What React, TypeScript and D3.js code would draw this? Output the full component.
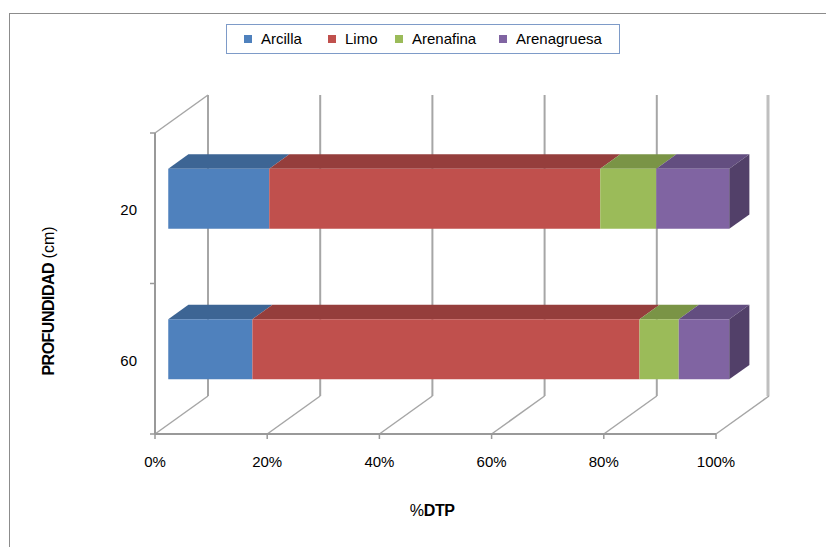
import React from "react";
import * as d3 from "d3";

// Depth categories (cm) and soil texture fractions (%)
const depths = ["20", "60"];
const series = ["Arcilla", "Limo", "Arenafina", "Arenagruesa"];
const arcilla = [18, 15];
const limo = [59, 69];
const arenaFina = [10, 7];
const arenaGruesa = [13, 9];
const xTicks = [0, 20, 40, 60, 80, 100];

const frontColors = ["#4F81BD", "#C0504D", "#9BBB59", "#8064A2"];
const topColors = ["#3D6594", "#953E3C", "#7A9446", "#634E80"];
const sideColor = "#524069";

const W = 826;
const H = 547;
const FONT = "Arial, 'Liberation Sans', sans-serif";

// Oblique projection of the 3D plot box
const DEPTH_X = 53;
const DEPTH_Y = -38;
const BAR_D0 = 0.25;
const BAR_D1 = 0.63;

export default function App() {
  const values = [arcilla, limo, arenaFina, arenaGruesa];
  const stack = d3
    .stack<number>()
    .keys(series.map((_, i) => String(i)))
    .value((j, key) => values[+key][j]);
  const stacked = stack(depths.map((_, j) => j));

  const x = d3.scaleLinear().domain([0, 100]).range([155, 716]);
  const y = d3
    .scaleBand<string>()
    .domain(depths)
    .range([133, 434])
    .paddingInner(0.6)
    .paddingOuter(0.3);

  const top = 133;
  const bottom = 434;
  const gridColor = "#A6A6A6";

  const pt = (px: number, py: number, d: number) =>
    `${px + DEPTH_X * d},${py + DEPTH_Y * d}`;

  const bars: React.ReactNode[] = [];
  depths.forEach((dep, j) => {
    const y0 = y(dep)!;
    const y1 = y0 + y.bandwidth();
    stacked.forEach((layer, i) => {
      const [a, b] = layer[j];
      const xa = x(a);
      const xb = x(b);
      bars.push(
        <polygon
          key={`t${j}-${i}`}
          points={[pt(xa, y0, BAR_D0), pt(xb, y0, BAR_D0), pt(xb, y0, BAR_D1), pt(xa, y0, BAR_D1)].join(" ")}
          fill={topColors[i]}
        />
      );
      bars.push(
        <polygon
          key={`f${j}-${i}`}
          points={[pt(xa, y0, BAR_D0), pt(xb, y0, BAR_D0), pt(xb, y1, BAR_D0), pt(xa, y1, BAR_D0)].join(" ")}
          fill={frontColors[i]}
        />
      );
      if (i === stacked.length - 1) {
        bars.push(
          <polygon
            key={`s${j}`}
            points={[pt(xb, y0, BAR_D0), pt(xb, y0, BAR_D1), pt(xb, y1, BAR_D1), pt(xb, y1, BAR_D0)].join(" ")}
            fill={sideColor}
          />
        );
      }
    });
  });

  const legendX = [244, 328, 395, 499];

  return (
    <svg
      width={W}
      height={H}
      style={{ position: "absolute", left: 0, top: 0, background: "#fff" }}
      fontFamily={FONT}
    >
      <rect x={9.5} y={13.5} width={900} height={700} fill="#fff" stroke="#8C8C8C" strokeWidth={1} />

      {/* back wall gridlines */}
      {xTicks.slice(0, -1).map((t) => (
        <line
          key={`g${t}`}
          x1={x(t) + DEPTH_X}
          x2={x(t) + DEPTH_X}
          y1={top + DEPTH_Y}
          y2={bottom + DEPTH_Y}
          stroke={gridColor}
          strokeWidth={2}
        />
      ))}
      {/* right wall */}
      <line
        x1={x(100) + DEPTH_X - 1}
        x2={x(100) + DEPTH_X - 1}
        y1={top + DEPTH_Y}
        y2={bottom + DEPTH_Y}
        stroke="#BFBFBF"
        strokeWidth={3}
      />
      {/* floor diagonals */}
      {xTicks.map((t) => (
        <line
          key={`fd${t}`}
          x1={x(t)}
          y1={bottom}
          x2={x(t) + DEPTH_X}
          y2={bottom + DEPTH_Y}
          stroke={gridColor}
          strokeWidth={1.5}
        />
      ))}
      {/* left wall top edge */}
      <line x1={x(0)} y1={top} x2={x(0) + DEPTH_X} y2={top + DEPTH_Y} stroke={gridColor} strokeWidth={1.5} />

      {bars}

      {/* front axes */}
      <line x1={x(0)} x2={x(0)} y1={top} y2={bottom} stroke="#999" strokeWidth={2} />
      <line x1={x(0)} x2={x(100)} y1={bottom} y2={bottom} stroke="#999" strokeWidth={2} />
      {[top, (top + bottom) / 2, bottom].map((v, k) => (
        <line key={`lt${k}`} x1={150} x2={155} y1={v} y2={v} stroke="#999" strokeWidth={1.5} />
      ))}
      {xTicks.map((t) => (
        <g key={`xt${t}`}>
          <line x1={x(t)} x2={x(t)} y1={bottom} y2={bottom + 5} stroke="#999" strokeWidth={1.5} />
          <text x={x(t)} y={467} textAnchor="middle" fontSize={15} fill="#000">
            {`${t}%`}
          </text>
        </g>
      ))}
      {depths.map((dep) => (
        <text key={`yl${dep}`} x={137} y={y(dep)! + y.bandwidth() / 2 + 7} textAnchor="end" fontSize={15} fill="#000">
          {dep}
        </text>
      ))}

      {/* axis titles */}
      <text x={432} y={516} textAnchor="middle" fontSize={16} fill="#000">
        %<tspan fontWeight="bold" letterSpacing={-0.5}>DTP</tspan>
      </text>
      <text
        transform="translate(54,301) rotate(-90)"
        textAnchor="middle"
        fontSize={16}
        fill="#000"
      >
        <tspan fontWeight="bold" letterSpacing={-0.5}>PROFUNDIDAD</tspan>
        <tspan> (cm)</tspan>
      </text>

      {/* legend */}
      <rect x={226.5} y={24.5} width={393} height={29} fill="#fff" stroke="#7E9BC8" strokeWidth={1} />
      {series.map((s, i) => (
        <g key={`lg${s}`}>
          <rect x={legendX[i]} y={35} width={8} height={8} fill={frontColors[i]} />
          <text x={legendX[i] + 17} y={44} fontSize={15} fill="#000">
            {s}
          </text>
        </g>
      ))}
    </svg>
  );
}
